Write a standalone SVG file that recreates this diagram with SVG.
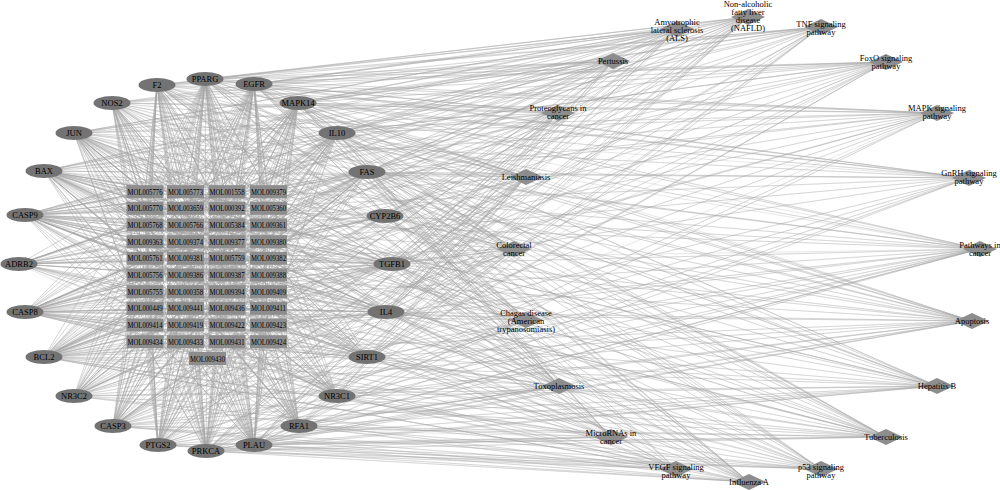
<svg xmlns="http://www.w3.org/2000/svg" width="1000" height="490" viewBox="0 0 1000 490">
<style>
.bg{fill:#ffffff}
.ed path{fill:none;stroke:#a6a6a6;stroke-width:0.5;stroke-opacity:0.52;stroke-linejoin:round}
.e{fill:#737373}
.m{fill:#8d8d8d}
.d{fill:#8d8d8d}
text{font-family:"Liberation Serif","Times New Roman",serif;fill:#000;text-anchor:middle}
.t{font-size:8.5px}
.mt{font-size:8.5px}
.p{font-size:8.5px}
</style>
<defs>
<path id="dm" d="M-17 0L0-8 17 0 0 8Z"/>
</defs>
<rect class="bg" x="0" y="0" width="1000" height="490"/>
<g id="edges" class="ed">
<path d="M205 79L145 192 205 79 186 192 205 79 227 192 205 79 268 192 205 79 145 225 205 79 186 242 205 79 227 258 205 79 268 275 205 79 145 292 205 79 186 308 205 79 227 325 205 79 268 342 205 79 207 358 205 79 227 208 205 79 145 258"/>
<path d="M205 79L677 29 205 79 748 17 205 79 821 27 205 79 613 61 205 79 886 62 205 79 558 113 205 79 937 113 205 79 514 249 205 79 980 249 205 79 559 386 205 79 886 437 205 79 937 386"/>
<path d="M157 85L145 192 157 85 145 242 157 85 186 208 157 85 227 225 157 85 268 258 157 85 145 308 157 85 186 292 157 85 227 342 157 85 268 208 157 85 186 325"/>
<path d="M157 85L677 29 157 85 748 17 157 85 613 61 157 85 558 113 157 85 526 177 157 85 514 249 157 85 526 320 157 85 559 386 157 85 611 437 157 85 980 249"/>
<path d="M254 84L268 192 254 84 227 192 254 84 186 208 254 84 145 225 254 84 268 242 254 84 227 275 254 84 186 308 254 84 268 325 254 84 145 342 254 84 207 358 254 84 227 242"/>
<path d="M254 84L677 29 254 84 748 17 254 84 821 27 254 84 886 62 254 84 558 113 254 84 937 113 254 84 969 178 254 84 980 249 254 84 514 249 254 84 611 437 254 84 676 469 254 84 821 469 254 84 937 386 254 84 972 321"/>
<path d="M112 103L145 192 112 103 186 192 112 103 145 208 112 103 186 225 112 103 227 242 112 103 145 275 112 103 268 292 112 103 186 342 112 103 227 308"/>
<path d="M112 103L613 61 112 103 526 177 112 103 526 320 112 103 559 386 112 103 886 437 112 103 749 482 112 103 677 29 112 103 937 113 112 103 980 249"/>
<path d="M298 103L268 192 298 103 268 208 298 103 227 208 298 103 186 225 298 103 145 242 298 103 268 258 298 103 227 292 298 103 186 325 298 103 145 308 298 103 268 342 298 103 227 258"/>
<path d="M298 103L677 29 298 103 748 17 298 103 821 27 298 103 613 61 298 103 886 62 298 103 558 113 298 103 937 113 298 103 969 178 298 103 526 177 298 103 526 320 298 103 559 386 298 103 886 437 298 103 676 469 298 103 749 482 298 103 937 386"/>
<path d="M74 133L145 192 74 133 145 208 74 133 186 225 74 133 145 242 74 133 227 258 74 133 186 275 74 133 268 292 74 133 145 325 74 133 227 342 74 133 268 225 74 133 186 208 74 133 227 308"/>
<path d="M74 133L821 27 74 133 886 62 74 133 937 113 74 133 969 178 74 133 980 249 74 133 972 321 74 133 937 386 74 133 886 437 74 133 526 177 74 133 526 320 74 133 559 386 74 133 613 61 74 133 748 17 74 133 677 29 74 133 749 482 74 133 611 437"/>
<path d="M337 133L268 192 337 133 227 208 337 133 268 225 337 133 186 242 337 133 268 275 337 133 145 258 337 133 227 308 337 133 186 342 337 133 268 325"/>
<path d="M337 133L613 61 337 133 526 177 337 133 526 320 337 133 559 386 337 133 886 437 337 133 749 482 337 133 748 17 337 133 980 249 337 133 937 386"/>
<path d="M44 171L145 192 44 171 145 225 44 171 186 242 44 171 145 258 44 171 227 275 44 171 186 292 44 171 268 208 44 171 145 308 44 171 227 325 44 171 186 192"/>
<path d="M44 171L677 29 44 171 748 17 44 171 886 62 44 171 980 249 44 171 972 321 44 171 937 386 44 171 886 437 44 171 821 469 44 171 749 482 44 171 514 249 44 171 611 437"/>
<path d="M367 172L268 192 367 172 268 225 367 172 227 242 367 172 268 258 367 172 186 275 367 172 227 292 367 172 145 208 367 172 268 308 367 172 186 325"/>
<path d="M367 172L677 29 367 172 748 17 367 172 821 27 367 172 886 62 367 172 980 249 367 172 972 321 367 172 937 386 367 172 886 437 367 172 526 320 367 172 821 469 367 172 749 482 367 172 514 249"/>
<path d="M25 215L145 192 25 215 145 208 25 215 145 225 25 215 186 242 25 215 145 275 25 215 227 258 25 215 186 308 25 215 268 225 25 215 145 342 25 215 227 192"/>
<path d="M25 215L677 29 25 215 748 17 25 215 980 249 25 215 972 321 25 215 937 386 25 215 821 469 25 215 749 482 25 215 514 249 25 215 886 62 25 215 886 437 25 215 526 320 25 215 559 386"/>
<path d="M385 216L268 208 385 216 268 242 385 216 227 225 385 216 268 275 385 216 186 258 385 216 268 325"/>
<path d="M385 216L748 17 385 216 980 249 385 216 558 113 385 216 514 249 385 216 526 320 385 216 526 177"/>
<path d="M19 264L145 242 19 264 145 258 19 264 186 275 19 264 145 292 19 264 227 225 19 264 186 325 19 264 268 258 19 264 145 192 19 264 227 342"/>
<path d="M19 264L613 61 19 264 969 178 19 264 937 113 19 264 514 249 19 264 886 437 19 264 972 321 19 264 677 29 19 264 748 17 19 264 980 249"/>
<path d="M392 264L268 242 392 264 268 258 392 264 227 275 392 264 268 292 392 264 186 225 392 264 227 325 392 264 145 258 392 264 268 192 392 264 186 342"/>
<path d="M392 264L748 17 392 264 821 27 392 264 886 62 392 264 937 113 392 264 980 249 392 264 514 249 392 264 526 177 392 264 526 320 392 264 886 437 392 264 937 386 392 264 821 469 392 264 558 113 392 264 611 437"/>
<path d="M25 312L145 275 25 312 145 292 25 312 186 308 25 312 145 325 25 312 227 258 25 312 186 242 25 312 268 308 25 312 145 208 25 312 227 342"/>
<path d="M25 312L677 29 25 312 748 17 25 312 821 27 25 312 980 249 25 312 972 321 25 312 937 386 25 312 886 437 25 312 821 469 25 312 749 482 25 312 514 249 25 312 526 177 25 312 526 320 25 312 559 386 25 312 613 61"/>
<path d="M386 312L268 275 386 312 268 292 386 312 227 308 386 312 268 325 386 312 186 258 386 312 227 242 386 312 145 308 386 312 268 208 386 312 186 342"/>
<path d="M386 312L526 177 386 312 886 437 386 312 937 386 386 312 526 320 386 312 559 386 386 312 980 249 386 312 972 321 386 312 748 17 386 312 886 62 386 312 514 249"/>
<path d="M44 357L145 308 44 357 145 325 44 357 145 342 44 357 186 325 44 357 186 292 44 357 227 275 44 357 145 258 44 357 268 342 44 357 207 358 44 357 227 208"/>
<path d="M44 357L677 29 44 357 748 17 44 357 886 62 44 357 980 249 44 357 972 321 44 357 937 386 44 357 886 437 44 357 821 469 44 357 749 482 44 357 514 249 44 357 611 437 44 357 558 113 44 357 559 386 44 357 526 320"/>
<path d="M367 357L268 308 367 357 268 325 367 357 268 342 367 357 227 325 367 357 227 292 367 357 186 275 367 357 268 258 367 357 145 342 367 357 207 358 367 357 186 225"/>
<path d="M367 357L748 17 367 357 886 62 367 357 611 437 367 357 972 321 367 357 980 249 367 357 886 437 367 357 937 386 367 357 514 249"/>
<path d="M74 396L145 342 74 396 145 325 74 396 186 342 74 396 186 308 74 396 227 325 74 396 145 275 74 396 268 292 74 396 207 358"/>
<path d="M74 396L969 178 74 396 980 249 74 396 972 321 74 396 937 113 74 396 514 249 74 396 886 437 74 396 937 386 74 396 886 62"/>
<path d="M337 396L268 342 337 396 268 325 337 396 227 342 337 396 227 308 337 396 186 325 337 396 268 275 337 396 145 292 337 396 207 358"/>
<path d="M337 396L613 61 337 396 972 321 337 396 980 249 337 396 611 437 337 396 886 437 337 396 937 386 337 396 526 177 337 396 748 17"/>
<path d="M113 426L145 342 113 426 186 342 113 426 145 325 113 426 186 308 113 426 227 292 113 426 145 258 113 426 268 325 113 426 207 358 113 426 227 225 113 426 186 242"/>
<path d="M113 426L677 29 113 426 748 17 113 426 821 27 113 426 980 249 113 426 972 321 113 426 937 386 113 426 886 437 113 426 821 469 113 426 749 482 113 426 514 249 113 426 526 177 113 426 526 320 113 426 559 386 113 426 613 61 113 426 886 62 113 426 611 437"/>
<path d="M299 426L268 342 299 426 227 342 299 426 268 325 299 426 227 308 299 426 186 292 299 426 268 258 299 426 145 325 299 426 207 358 299 426 186 225"/>
<path d="M299 426L980 249 299 426 937 386 299 426 972 321 299 426 821 469 299 426 749 482 299 426 886 437 299 426 611 437 299 426 676 469"/>
<path d="M158 445L145 342 158 445 186 342 158 445 227 342 158 445 207 358 158 445 145 308 158 445 186 275 158 445 227 242 158 445 268 325 158 445 145 208 158 445 186 192"/>
<path d="M158 445L821 27 158 445 980 249 158 445 676 469 158 445 611 437 158 445 526 320 158 445 559 386 158 445 886 437 158 445 526 177 158 445 558 113 158 445 514 249"/>
<path d="M206 451L207 358 206 451 186 342 206 451 227 342 206 451 145 342 206 451 268 342 206 451 186 292 206 451 227 258 206 451 145 225 206 451 268 208 206 451 186 192 206 451 227 192"/>
<path d="M206 451L676 469 206 451 937 113 206 451 969 178 206 451 558 113 206 451 980 249 206 451 749 482 206 451 937 386 206 451 611 437 206 451 886 437 206 451 972 321 206 451 677 29 206 451 514 249 206 451 613 61"/>
<path d="M254 445L268 342 254 445 227 342 254 445 207 358 254 445 186 342 254 445 268 308 254 445 227 275 254 445 186 242 254 445 145 325 254 445 268 192 254 445 227 208"/>
<path d="M254 445L676 469 254 445 558 113 254 445 980 249 254 445 611 437 254 445 749 482 254 445 886 437 254 445 972 321 254 445 821 469 254 445 937 386 254 445 677 29 254 445 937 113 254 445 514 249"/>
<path d="M205 79L186 192 205 79 145 208 205 79 268 225 205 79 227 242 205 79 186 258 205 79 145 275 205 79 268 292 205 79 227 308 205 79 186 325 205 79 145 342 205 79 268 192 205 79 227 208 205 79 186 225 205 79 145 242 205 79 268 258 205 79 227 275 205 79 186 292 205 79 145 308 205 79 268 325 205 79 227 342"/>
<path d="M254 84L186 192 254 84 145 208 254 84 268 225 254 84 227 242 254 84 186 258 254 84 145 275 254 84 268 292 254 84 227 308 254 84 186 325 254 84 145 342 254 84 268 192 254 84 227 208 254 84 186 225 254 84 145 242 254 84 268 258 254 84 227 275 254 84 186 292 254 84 145 308 254 84 268 325 254 84 227 342"/>
<path d="M298 103L186 192 298 103 145 208 298 103 268 225 298 103 227 242 298 103 186 258 298 103 145 275 298 103 268 292 298 103 227 308 298 103 186 325 298 103 145 342 298 103 268 192 298 103 227 208 298 103 186 225 298 103 145 242 298 103 268 258 298 103 227 275 298 103 186 292 298 103 145 308 298 103 268 325 298 103 227 342"/>
<path d="M337 133L186 192 337 133 145 208 337 133 268 225 337 133 227 242 337 133 186 258 337 133 145 275 337 133 268 292 337 133 227 308 337 133 186 325 337 133 145 342 337 133 268 192 337 133 227 208 337 133 186 225 337 133 145 242 337 133 268 258 337 133 227 275 337 133 186 292 337 133 145 308 337 133 268 325 337 133 227 342"/>
<path d="M367 172L186 192 367 172 145 208 367 172 268 225 367 172 227 242 367 172 186 258 367 172 145 275 367 172 268 292 367 172 227 308 367 172 186 325 367 172 145 342 367 172 268 192 367 172 227 208 367 172 186 225 367 172 145 242 367 172 268 258 367 172 227 275 367 172 186 292 367 172 145 308 367 172 268 325 367 172 227 342"/>
<path d="M385 216L186 192 385 216 145 208 385 216 268 225 385 216 227 242 385 216 186 258 385 216 145 275 385 216 268 292 385 216 227 308 385 216 186 325 385 216 145 342"/>
<path d="M392 264L186 192 392 264 145 208 392 264 268 225 392 264 227 242 392 264 186 258 392 264 145 275 392 264 268 292 392 264 227 308 392 264 186 325 392 264 145 342 392 264 268 192 392 264 227 208 392 264 186 225 392 264 145 242 392 264 268 258 392 264 227 275 392 264 186 292 392 264 145 308 392 264 268 325 392 264 227 342"/>
<path d="M386 312L186 192 386 312 145 208 386 312 268 225 386 312 227 242 386 312 186 258 386 312 145 275 386 312 268 292 386 312 227 308 386 312 186 325 386 312 145 342 386 312 268 192 386 312 227 208 386 312 186 225 386 312 145 242 386 312 268 258 386 312 227 275 386 312 186 292 386 312 145 308 386 312 268 325 386 312 227 342"/>
<path d="M367 357L186 192 367 357 145 208 367 357 268 225 367 357 227 242 367 357 186 258 367 357 145 275 367 357 268 292 367 357 227 308 367 357 186 325 367 357 145 342 367 357 268 192 367 357 227 208 367 357 186 225 367 357 145 242 367 357 268 258 367 357 227 275 367 357 186 292 367 357 145 308 367 357 268 325 367 357 227 342"/>
<path d="M337 396L186 192 337 396 145 208 337 396 268 225 337 396 227 242 337 396 186 258 337 396 145 275 337 396 268 292 337 396 227 308 337 396 186 325 337 396 145 342 337 396 268 192 337 396 227 208 337 396 186 225 337 396 145 242 337 396 268 258 337 396 227 275 337 396 186 292 337 396 145 308 337 396 268 325 337 396 227 342"/>
<path d="M299 426L186 192 299 426 145 208 299 426 268 225 299 426 227 242 299 426 186 258 299 426 145 275 299 426 268 292 299 426 227 308 299 426 186 325 299 426 145 342 299 426 268 192 299 426 227 208 299 426 186 225 299 426 145 242 299 426 268 258 299 426 227 275 299 426 186 292 299 426 145 308 299 426 268 325 299 426 227 342"/>
<path d="M206 451L186 192 206 451 145 208 206 451 268 225 206 451 227 242 206 451 186 258 206 451 145 275 206 451 268 292 206 451 227 308 206 451 186 325 206 451 145 342 206 451 268 192 206 451 227 208 206 451 186 225 206 451 145 242 206 451 268 258 206 451 227 275 206 451 186 292 206 451 145 308 206 451 268 325 206 451 227 342"/>
<path d="M157 85L227 192 157 85 186 208 157 85 145 225 157 85 268 242 157 85 227 258 157 85 186 275 157 85 145 292 157 85 268 308 157 85 227 325 157 85 186 342 157 85 145 192 157 85 268 208 157 85 227 225 157 85 186 242 157 85 145 258 157 85 268 275 157 85 227 292 157 85 186 308 157 85 145 325 157 85 268 342"/>
<path d="M112 103L227 192 112 103 186 208 112 103 145 225 112 103 268 242 112 103 227 258 112 103 186 275 112 103 145 292 112 103 268 308 112 103 227 325 112 103 186 342 112 103 145 192 112 103 268 208 112 103 227 225 112 103 186 242 112 103 145 258 112 103 268 275 112 103 227 292 112 103 186 308 112 103 145 325 112 103 268 342"/>
<path d="M74 133L227 192 74 133 186 208 74 133 145 225 74 133 268 242 74 133 227 258 74 133 186 275 74 133 145 292 74 133 268 308 74 133 227 325 74 133 186 342 74 133 145 192 74 133 268 208 74 133 227 225 74 133 186 242 74 133 145 258 74 133 268 275 74 133 227 292 74 133 186 308 74 133 145 325 74 133 268 342"/>
<path d="M44 171L227 192 44 171 186 208 44 171 145 225 44 171 268 242 44 171 227 258 44 171 186 275 44 171 145 292 44 171 268 308 44 171 227 325 44 171 186 342 44 171 145 192 44 171 268 208 44 171 227 225 44 171 186 242 44 171 145 258 44 171 268 275 44 171 227 292 44 171 186 308 44 171 145 325 44 171 268 342"/>
<path d="M25 215L227 192 25 215 186 208 25 215 145 225 25 215 268 242 25 215 227 258 25 215 186 275 25 215 145 292 25 215 268 308 25 215 227 325 25 215 186 342 25 215 145 192 25 215 268 208 25 215 227 225 25 215 186 242 25 215 145 258 25 215 268 275 25 215 227 292 25 215 186 308 25 215 145 325 25 215 268 342"/>
<path d="M19 264L227 192 19 264 186 208 19 264 145 225 19 264 268 242 19 264 227 258 19 264 186 275 19 264 145 292 19 264 268 308 19 264 227 325 19 264 186 342"/>
<path d="M25 312L227 192 25 312 186 208 25 312 145 225 25 312 268 242 25 312 227 258 25 312 186 275 25 312 145 292 25 312 268 308 25 312 227 325 25 312 186 342 25 312 145 192 25 312 268 208 25 312 227 225 25 312 186 242 25 312 145 258 25 312 268 275 25 312 227 292 25 312 186 308 25 312 145 325 25 312 268 342"/>
<path d="M44 357L227 192 44 357 186 208 44 357 145 225 44 357 268 242 44 357 227 258 44 357 186 275 44 357 145 292 44 357 268 308 44 357 227 325 44 357 186 342 44 357 145 192 44 357 268 208 44 357 227 225 44 357 186 242 44 357 145 258 44 357 268 275 44 357 227 292 44 357 186 308 44 357 145 325 44 357 268 342"/>
<path d="M74 396L227 192 74 396 186 208 74 396 145 225 74 396 268 242 74 396 227 258 74 396 186 275 74 396 145 292 74 396 268 308 74 396 227 325 74 396 186 342 74 396 145 192 74 396 268 208 74 396 227 225 74 396 186 242 74 396 145 258 74 396 268 275 74 396 227 292 74 396 186 308 74 396 145 325 74 396 268 342"/>
<path d="M113 426L227 192 113 426 186 208 113 426 145 225 113 426 268 242 113 426 227 258 113 426 186 275 113 426 145 292 113 426 268 308 113 426 227 325 113 426 186 342 113 426 145 192 113 426 268 208 113 426 227 225 113 426 186 242 113 426 145 258 113 426 268 275 113 426 227 292 113 426 186 308 113 426 145 325 113 426 268 342"/>
<path d="M158 445L227 192 158 445 186 208 158 445 145 225 158 445 268 242 158 445 227 258 158 445 186 275 158 445 145 292 158 445 268 308 158 445 227 325 158 445 186 342 158 445 145 192 158 445 268 208 158 445 227 225 158 445 186 242 158 445 145 258 158 445 268 275 158 445 227 292 158 445 186 308 158 445 145 325 158 445 268 342"/>
<path d="M254 445L227 192 254 445 186 208 254 445 145 225 254 445 268 242 254 445 227 258 254 445 186 275 254 445 145 292 254 445 268 308 254 445 227 325 254 445 186 342 254 445 145 192 254 445 268 208 254 445 227 225 254 445 186 242 254 445 145 258 254 445 268 275 254 445 227 292 254 445 186 308 254 445 145 325 254 445 268 342"/>
<path d="M969 178L205 79 969 178 157 85 969 178 112 103 969 178 44 171 969 178 367 172 969 178 25 215 969 178 392 264 969 178 113 426 969 178 158 445 969 178 254 445 969 178 337 133"/>
<path d="M937 113L44 171 937 113 367 172 937 113 25 215 937 113 25 312 937 113 44 357 937 113 113 426 937 113 337 133 937 113 157 85 937 113 158 445"/>
<path d="M886 62L157 85 886 62 112 103 886 62 337 133 886 62 19 264 886 62 25 312 886 62 206 451 886 62 158 445"/>
<path d="M821 469L205 79 821 469 157 85 821 469 74 133 821 469 298 103 821 469 19 264 821 469 386 312 821 469 74 396 821 469 158 445 821 469 206 451 821 469 367 357"/>
<path d="M749 482L205 79 749 482 254 84 749 482 157 85 749 482 392 264 749 482 386 312 749 482 337 396 749 482 158 445 749 482 367 357"/>
<path d="M676 469L157 85 676 469 74 133 676 469 44 171 676 469 25 215 676 469 25 312 676 469 44 357 676 469 113 426 676 469 74 396 676 469 386 312 676 469 367 357 676 469 337 396"/>
<path d="M821 27L157 85 821 27 112 103 821 27 337 133 821 27 44 171 821 27 25 215 821 27 44 357 821 27 367 357 821 27 299 426 821 27 254 445 821 27 206 451"/>
<path d="M972 321L205 79 972 321 157 85 972 321 112 103 972 321 298 103 972 321 337 133 972 321 392 264 972 321 385 216 972 321 158 445"/>
<path d="M937 386L157 85 937 386 112 103 937 386 158 445 937 386 44 171 937 386 367 172"/>
<path d="M886 437L157 85 886 437 254 84 886 437 25 215 886 437 44 171"/>
<path d="M526 177L205 79 526 177 254 84 526 177 44 171 526 177 25 215 526 177 44 357 526 177 367 172 526 177 367 357 526 177 206 451 526 177 254 445 526 177 299 426"/>
<path d="M613 61L254 84 613 61 44 171 613 61 367 172 613 61 25 215 613 61 44 357 613 61 392 264 613 61 386 312 613 61 254 445 613 61 158 445"/>
<path d="M558 113L112 103 558 113 74 133 558 113 44 171 558 113 367 172 558 113 25 215 558 113 25 312 558 113 113 426 558 113 337 133 558 113 386 312 558 113 299 426"/>
<path d="M514 249L74 133 514 249 112 103 514 249 337 133 514 249 298 103 514 249 299 426"/>
<path d="M526 320L205 79 526 320 254 84 526 320 44 171 526 320 206 451 526 320 254 445 526 320 337 396"/>
<path d="M559 386L254 84 559 386 44 171 559 386 367 172 559 386 392 264 559 386 74 396 559 386 206 451 559 386 254 445 559 386 299 426 559 386 367 357"/>
<path d="M611 437L205 79 611 437 25 215 611 437 25 312 611 437 367 172 611 437 337 133 611 437 298 103 611 437 112 103"/>
<path d="M677 29L337 133 677 29 392 264 677 29 385 216 677 29 386 312 677 29 158 445 677 29 299 426"/>
<path d="M748 17L206 451 748 17 158 445 748 17 299 426 748 17 254 445 748 17 74 396"/>
</g>
<g id="targets">
<g id="PPARG"><ellipse class="e" cx="205" cy="79" rx="18.5" ry="7"/><text class="t" x="205" y="82">PPARG</text></g>
<g id="F2"><ellipse class="e" cx="157" cy="85" rx="18.5" ry="7"/><text class="t" x="157" y="88">F2</text></g>
<g id="EGFR"><ellipse class="e" cx="254" cy="84" rx="18.5" ry="7"/><text class="t" x="254" y="87">EGFR</text></g>
<g id="NOS2"><ellipse class="e" cx="112" cy="103" rx="18.5" ry="7"/><text class="t" x="112" y="106">NOS2</text></g>
<g id="MAPK14"><ellipse class="e" cx="298" cy="103" rx="18.5" ry="7"/><text class="t" x="298" y="106">MAPK14</text></g>
<g id="JUN"><ellipse class="e" cx="74" cy="133" rx="18.5" ry="7"/><text class="t" x="74" y="136">JUN</text></g>
<g id="IL10"><ellipse class="e" cx="337" cy="133" rx="18.5" ry="7"/><text class="t" x="337" y="136">IL10</text></g>
<g id="BAX"><ellipse class="e" cx="44" cy="171" rx="18.5" ry="7"/><text class="t" x="44" y="174">BAX</text></g>
<g id="FAS"><ellipse class="e" cx="367" cy="172" rx="18.5" ry="7"/><text class="t" x="367" y="175">FAS</text></g>
<g id="CASP9"><ellipse class="e" cx="25" cy="215" rx="18.5" ry="7"/><text class="t" x="25" y="218">CASP9</text></g>
<g id="CYP2B6"><ellipse class="e" cx="385" cy="216" rx="18.5" ry="7"/><text class="t" x="385" y="219">CYP2B6</text></g>
<g id="ADRB2"><ellipse class="e" cx="19" cy="264" rx="18.5" ry="7"/><text class="t" x="19" y="267">ADRB2</text></g>
<g id="TGFB1"><ellipse class="e" cx="392" cy="264" rx="18.5" ry="7"/><text class="t" x="392" y="267">TGFB1</text></g>
<g id="CASP8"><ellipse class="e" cx="25" cy="312" rx="18.5" ry="7"/><text class="t" x="25" y="315">CASP8</text></g>
<g id="IL4"><ellipse class="e" cx="386" cy="312" rx="18.5" ry="7"/><text class="t" x="386" y="315">IL4</text></g>
<g id="BCL2"><ellipse class="e" cx="44" cy="357" rx="18.5" ry="7"/><text class="t" x="44" y="360">BCL2</text></g>
<g id="SIRT1"><ellipse class="e" cx="367" cy="357" rx="18.5" ry="7"/><text class="t" x="367" y="360">SIRT1</text></g>
<g id="NR3C2"><ellipse class="e" cx="74" cy="396" rx="18.5" ry="7"/><text class="t" x="74" y="399">NR3C2</text></g>
<g id="NR3C1"><ellipse class="e" cx="337" cy="396" rx="18.5" ry="7"/><text class="t" x="337" y="399">NR3C1</text></g>
<g id="CASP3"><ellipse class="e" cx="113" cy="426" rx="18.5" ry="7"/><text class="t" x="113" y="429">CASP3</text></g>
<g id="RFA1"><ellipse class="e" cx="299" cy="426" rx="18.5" ry="7"/><text class="t" x="299" y="429">RFA1</text></g>
<g id="PTGS2"><ellipse class="e" cx="158" cy="445" rx="18.5" ry="7"/><text class="t" x="158" y="448">PTGS2</text></g>
<g id="PRKCA"><ellipse class="e" cx="206" cy="451" rx="18.5" ry="7"/><text class="t" x="206" y="454">PRKCA</text></g>
<g id="PLAU"><ellipse class="e" cx="254" cy="445" rx="18.5" ry="7"/><text class="t" x="254" y="448">PLAU</text></g>
</g>
<g id="compounds">
<g id="MOL005776"><rect class="m" x="126.5" y="185.2" width="37" height="13"/><text class="mt" x="145" y="194.7" textLength="35" lengthAdjust="spacingAndGlyphs">MOL005776</text></g>
<g id="MOL005773"><rect class="m" x="167" y="185.2" width="37" height="13"/><text class="mt" x="185.5" y="194.7" textLength="35" lengthAdjust="spacingAndGlyphs">MOL005773</text></g>
<g id="MOL001558"><rect class="m" x="208.5" y="185.2" width="37" height="13"/><text class="mt" x="227" y="194.7" textLength="35" lengthAdjust="spacingAndGlyphs">MOL001558</text></g>
<g id="MOL009379"><rect class="m" x="250" y="185.2" width="37" height="13"/><text class="mt" x="268.5" y="194.7" textLength="35" lengthAdjust="spacingAndGlyphs">MOL009379</text></g>
<g id="MOL005770"><rect class="m" x="126.5" y="201.8" width="37" height="13"/><text class="mt" x="145" y="211.3" textLength="35" lengthAdjust="spacingAndGlyphs">MOL005770</text></g>
<g id="MOL003659"><rect class="m" x="167" y="201.8" width="37" height="13"/><text class="mt" x="185.5" y="211.3" textLength="35" lengthAdjust="spacingAndGlyphs">MOL003659</text></g>
<g id="MOL000392"><rect class="m" x="208.5" y="201.8" width="37" height="13"/><text class="mt" x="227" y="211.3" textLength="35" lengthAdjust="spacingAndGlyphs">MOL000392</text></g>
<g id="MOL005360"><rect class="m" x="250" y="201.8" width="37" height="13"/><text class="mt" x="268.5" y="211.3" textLength="35" lengthAdjust="spacingAndGlyphs">MOL005360</text></g>
<g id="MOL005768"><rect class="m" x="126.5" y="218.5" width="37" height="13"/><text class="mt" x="145" y="228" textLength="35" lengthAdjust="spacingAndGlyphs">MOL005768</text></g>
<g id="MOL005766"><rect class="m" x="167" y="218.5" width="37" height="13"/><text class="mt" x="185.5" y="228" textLength="35" lengthAdjust="spacingAndGlyphs">MOL005766</text></g>
<g id="MOL005384"><rect class="m" x="208.5" y="218.5" width="37" height="13"/><text class="mt" x="227" y="228" textLength="35" lengthAdjust="spacingAndGlyphs">MOL005384</text></g>
<g id="MOL009361"><rect class="m" x="250" y="218.5" width="37" height="13"/><text class="mt" x="268.5" y="228" textLength="35" lengthAdjust="spacingAndGlyphs">MOL009361</text></g>
<g id="MOL009363"><rect class="m" x="126.5" y="235.2" width="37" height="13"/><text class="mt" x="145" y="244.7" textLength="35" lengthAdjust="spacingAndGlyphs">MOL009363</text></g>
<g id="MOL009374"><rect class="m" x="167" y="235.2" width="37" height="13"/><text class="mt" x="185.5" y="244.7" textLength="35" lengthAdjust="spacingAndGlyphs">MOL009374</text></g>
<g id="MOL009377"><rect class="m" x="208.5" y="235.2" width="37" height="13"/><text class="mt" x="227" y="244.7" textLength="35" lengthAdjust="spacingAndGlyphs">MOL009377</text></g>
<g id="MOL009380"><rect class="m" x="250" y="235.2" width="37" height="13"/><text class="mt" x="268.5" y="244.7" textLength="35" lengthAdjust="spacingAndGlyphs">MOL009380</text></g>
<g id="MOL005761"><rect class="m" x="126.5" y="251.8" width="37" height="13"/><text class="mt" x="145" y="261.3" textLength="35" lengthAdjust="spacingAndGlyphs">MOL005761</text></g>
<g id="MOL009381"><rect class="m" x="167" y="251.8" width="37" height="13"/><text class="mt" x="185.5" y="261.3" textLength="35" lengthAdjust="spacingAndGlyphs">MOL009381</text></g>
<g id="MOL005759"><rect class="m" x="208.5" y="251.8" width="37" height="13"/><text class="mt" x="227" y="261.3" textLength="35" lengthAdjust="spacingAndGlyphs">MOL005759</text></g>
<g id="MOL009382"><rect class="m" x="250" y="251.8" width="37" height="13"/><text class="mt" x="268.5" y="261.3" textLength="35" lengthAdjust="spacingAndGlyphs">MOL009382</text></g>
<g id="MOL005756"><rect class="m" x="126.5" y="268.5" width="37" height="13"/><text class="mt" x="145" y="278" textLength="35" lengthAdjust="spacingAndGlyphs">MOL005756</text></g>
<g id="MOL009386"><rect class="m" x="167" y="268.5" width="37" height="13"/><text class="mt" x="185.5" y="278" textLength="35" lengthAdjust="spacingAndGlyphs">MOL009386</text></g>
<g id="MOL009387"><rect class="m" x="208.5" y="268.5" width="37" height="13"/><text class="mt" x="227" y="278" textLength="35" lengthAdjust="spacingAndGlyphs">MOL009387</text></g>
<g id="MOL009388"><rect class="m" x="250" y="268.5" width="37" height="13"/><text class="mt" x="268.5" y="278" textLength="35" lengthAdjust="spacingAndGlyphs">MOL009388</text></g>
<g id="MOL005755"><rect class="m" x="126.5" y="285.2" width="37" height="13"/><text class="mt" x="145" y="294.7" textLength="35" lengthAdjust="spacingAndGlyphs">MOL005755</text></g>
<g id="MOL000358"><rect class="m" x="167" y="285.2" width="37" height="13"/><text class="mt" x="185.5" y="294.7" textLength="35" lengthAdjust="spacingAndGlyphs">MOL000358</text></g>
<g id="MOL009394"><rect class="m" x="208.5" y="285.2" width="37" height="13"/><text class="mt" x="227" y="294.7" textLength="35" lengthAdjust="spacingAndGlyphs">MOL009394</text></g>
<g id="MOL009409"><rect class="m" x="250" y="285.2" width="37" height="13"/><text class="mt" x="268.5" y="294.7" textLength="35" lengthAdjust="spacingAndGlyphs">MOL009409</text></g>
<g id="MOL000449"><rect class="m" x="126.5" y="301.8" width="37" height="13"/><text class="mt" x="145" y="311.3" textLength="35" lengthAdjust="spacingAndGlyphs">MOL000449</text></g>
<g id="MOL009441"><rect class="m" x="167" y="301.8" width="37" height="13"/><text class="mt" x="185.5" y="311.3" textLength="35" lengthAdjust="spacingAndGlyphs">MOL009441</text></g>
<g id="MOL009436"><rect class="m" x="208.5" y="301.8" width="37" height="13"/><text class="mt" x="227" y="311.3" textLength="35" lengthAdjust="spacingAndGlyphs">MOL009436</text></g>
<g id="MOL009411"><rect class="m" x="250" y="301.8" width="37" height="13"/><text class="mt" x="268.5" y="311.3" textLength="35" lengthAdjust="spacingAndGlyphs">MOL009411</text></g>
<g id="MOL009414"><rect class="m" x="126.5" y="318.5" width="37" height="13"/><text class="mt" x="145" y="328" textLength="35" lengthAdjust="spacingAndGlyphs">MOL009414</text></g>
<g id="MOL009419"><rect class="m" x="167" y="318.5" width="37" height="13"/><text class="mt" x="185.5" y="328" textLength="35" lengthAdjust="spacingAndGlyphs">MOL009419</text></g>
<g id="MOL009422"><rect class="m" x="208.5" y="318.5" width="37" height="13"/><text class="mt" x="227" y="328" textLength="35" lengthAdjust="spacingAndGlyphs">MOL009422</text></g>
<g id="MOL009423"><rect class="m" x="250" y="318.5" width="37" height="13"/><text class="mt" x="268.5" y="328" textLength="35" lengthAdjust="spacingAndGlyphs">MOL009423</text></g>
<g id="MOL009434"><rect class="m" x="126.5" y="335.2" width="37" height="13"/><text class="mt" x="145" y="344.7" textLength="35" lengthAdjust="spacingAndGlyphs">MOL009434</text></g>
<g id="MOL009433"><rect class="m" x="167" y="335.2" width="37" height="13"/><text class="mt" x="185.5" y="344.7" textLength="35" lengthAdjust="spacingAndGlyphs">MOL009433</text></g>
<g id="MOL009431"><rect class="m" x="208.5" y="335.2" width="37" height="13"/><text class="mt" x="227" y="344.7" textLength="35" lengthAdjust="spacingAndGlyphs">MOL009431</text></g>
<g id="MOL009424"><rect class="m" x="250" y="335.2" width="37" height="13"/><text class="mt" x="268.5" y="344.7" textLength="35" lengthAdjust="spacingAndGlyphs">MOL009424</text></g>
<g id="MOL009430"><rect class="m" x="189" y="352" width="37" height="13"/><text class="mt" x="207.5" y="361.5" textLength="35" lengthAdjust="spacingAndGlyphs">MOL009430</text></g>
</g>
<g id="pathways">
<g id="ALS"><use href="#dm" class="d" x="677" y="29"/><text class="p" x="677" y="25">Amyotrophic<tspan x="677" y="33">lateral sclerosis</tspan><tspan x="677" y="41">(ALS)</tspan></text></g>
<g id="NAFLD"><use href="#dm" class="d" x="748" y="17"/><text class="p" x="748" y="7">Non-alcoholic<tspan x="748" y="15">fatty liver</tspan><tspan x="748" y="23">disease</tspan><tspan x="748" y="31">(NAFLD)</tspan></text></g>
<g id="TNF"><use href="#dm" class="d" x="821" y="27"/><text class="p" x="821" y="27">TNF signaling<tspan x="821" y="35">pathway</tspan></text></g>
<g id="Pertussis"><use href="#dm" class="d" x="613" y="61"/><text class="p" x="613" y="64">Pertussis</text></g>
<g id="FoxO"><use href="#dm" class="d" x="886" y="62"/><text class="p" x="886" y="61">FoxO signaling<tspan x="886" y="69">pathway</tspan></text></g>
<g id="Proteoglycans"><use href="#dm" class="d" x="558" y="113"/><text class="p" x="558" y="111">Proteoglycans in<tspan x="558" y="119">cancer</tspan></text></g>
<g id="MAPK"><use href="#dm" class="d" x="937" y="113"/><text class="p" x="937" y="111">MAPK signaling<tspan x="937" y="119">pathway</tspan></text></g>
<g id="Leishmaniasis"><use href="#dm" class="d" x="526" y="177"/><text class="p" x="526" y="180">Leishmaniasis</text></g>
<g id="GnRH"><use href="#dm" class="d" x="969" y="178"/><text class="p" x="969" y="176">GnRH signaling<tspan x="969" y="184">pathway</tspan></text></g>
<g id="Colorectal"><use href="#dm" class="d" x="514" y="249"/><text class="p" x="514" y="248">Colorectal<tspan x="514" y="256">cancer</tspan></text></g>
<g id="PathwaysInCancer"><use href="#dm" class="d" x="980" y="249"/><text class="p" x="980" y="248">Pathways in<tspan x="980" y="256">cancer</tspan></text></g>
<g id="Chagas"><use href="#dm" class="d" x="526" y="320"/><text class="p" x="526" y="316">Chagas disease<tspan x="526" y="324">(American</tspan><tspan x="526" y="332">trypanosomiasis)</tspan></text></g>
<g id="Apoptosis"><use href="#dm" class="d" x="972" y="321"/><text class="p" x="972" y="324">Apoptosis</text></g>
<g id="Toxoplasmosis"><use href="#dm" class="d" x="559" y="386"/><text class="p" x="559" y="389">Toxoplasmosis</text></g>
<g id="HepatitisB"><use href="#dm" class="d" x="937" y="386"/><text class="p" x="937" y="389">Hepatitis B</text></g>
<g id="MicroRNAs"><use href="#dm" class="d" x="611" y="437"/><text class="p" x="611" y="436">MicroRNAs in<tspan x="611" y="444">cancer</tspan></text></g>
<g id="Tuberculosis"><use href="#dm" class="d" x="886" y="437"/><text class="p" x="886" y="440">Tuberculosis</text></g>
<g id="VEGF"><use href="#dm" class="d" x="676" y="469"/><text class="p" x="676" y="470">VEGF signaling<tspan x="676" y="478">pathway</tspan></text></g>
<g id="p53"><use href="#dm" class="d" x="821" y="469"/><text class="p" x="821" y="470">p53 signaling<tspan x="821" y="478">pathway</tspan></text></g>
<g id="InfluenzaA"><use href="#dm" class="d" x="749" y="482"/><text class="p" x="749" y="485">Influenza A</text></g>
</g>
</svg>
